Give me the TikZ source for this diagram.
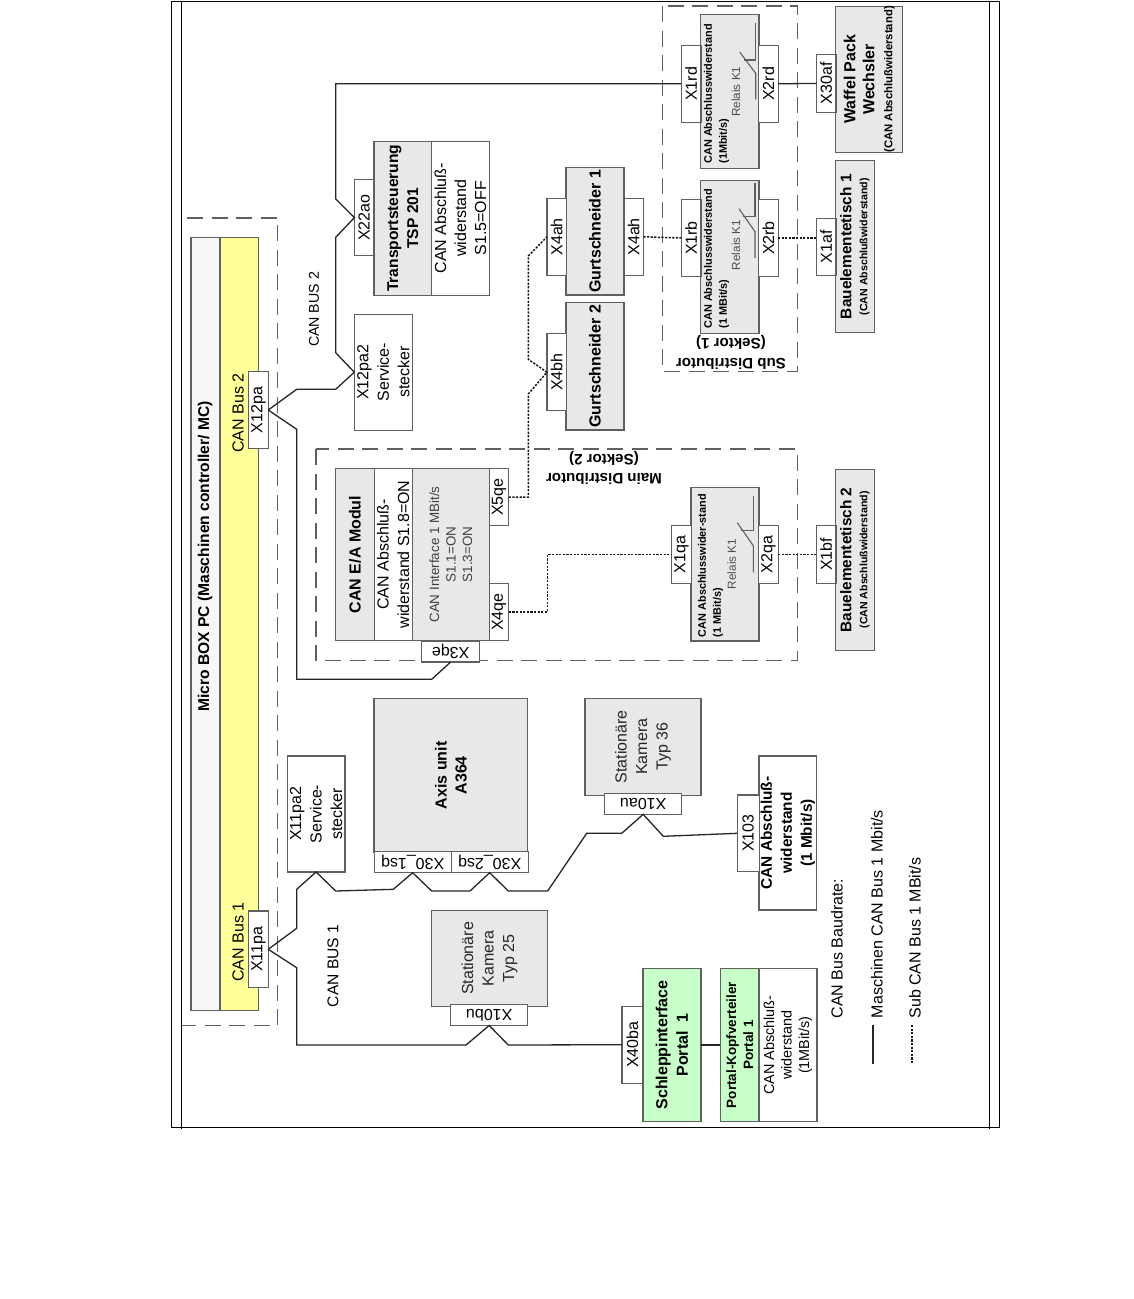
\documentclass[tikz,border=0pt]{standalone}
\usepackage{fontspec}
\setmainfont{Liberation Sans}
\usepackage{tikz}
\usetikzlibrary{positioning}
\definecolor{linegray}{HTML}{606060}
\definecolor{boxgray}{HTML}{E8E8E8}
\definecolor{palegray}{HTML}{F7F7F7}
\definecolor{busyellow}{HTML}{FFFF99}
\definecolor{portalgreen}{HTML}{C8FFC8}
\newcommand{\fs}[2]{\fontsize{#1}{#2}\selectfont}
\tikzset{
  sz/.style 2 args={minimum height=#1pt, minimum width=#2pt},
  plain/.style={inner sep=0pt, outer sep=0pt, align=center, font=\fs{16}{20.5}},
  box/.style={plain, draw=linegray, line width=1.1pt, rotate=90},
  graybox/.style={box, fill=boxgray},
  plug/.style={box, fill=white, sz={19.5}{76.6}},
  plugshort/.style={box, fill=white, sz={19.5}{57.5}},
  plugflip/.style={plain, draw=linegray, line width=1.1pt, fill=white, rotate=180, minimum width=77pt, minimum height=21pt},
  label/.style={plain, rotate=90},
  fliplabel/.style={plain, rotate=180, font=\bfseries\fs{15.1}{19.5}},
  smalllabel/.style={label, align=left, anchor=north west, font=\bfseries\fs{10.9}{15}},
  relaislabel/.style={label, text=linegray!80!black, font=\fs{11.7}{14}},
  framed/.style={draw=linegray, line width=1.1pt, dash pattern=on 16pt off 8.5pt},
  bus/.style={draw=black!85, line width=1.3pt},
  subbus/.style={draw=black!90, line width=1.5pt, dash pattern=on 2.2pt off 1.4pt}
}

\begin{document}
\begin{tikzpicture}[x=1pt, y=-1pt]

\useasboundingbox (0,0) rectangle (1134,1299);
\fill[white] (0,0) rectangle (1134,1299);

% Page frame
\draw[line width=1pt] (171,1) rectangle (999,1127);
\draw[line width=1pt] (181.7,1) -- (181.7,1129);
\draw[line width=1pt] (989.3,1) -- (989.3,1129);

% Dashed groups
\draw[framed] (187,218) -- (277.7,218) -- (277.7,1025.7) -- (181.7,1025.7);
\draw[framed] (316,449) rectangle (797.3,660.3);
\draw[framed] (662.3,6) rectangle (797.3,371.7);

% Micro BOX PC
\node[box, fill=palegray, sz={29}{772.7}] (microhead) at (205.5,623.7) {};
\node[box, fill=busyellow, sz={38.3}{772.7}] (microbus) at (239.2,623.7) {};
\node[label, font=\bfseries\fs{15.6}{20}] (microtext) at (205,556.5) {Micro BOX PC (Maschinen controller/ MC)};
\node[label] (bus2text) at (238,413) {CAN Bus 2};
\node[label] (bus1text) at (238,942) {CAN Bus 1};
\node[plug] (x12pa) at (258.5,410) {X12pa};
\node[plug] (x11pa) at (258.5,949.3) {X11pa};

% Service plugs
\node[box, fill=white, sz={58}{115.7}] (x12pa2) at (383.3,372.2) {X12pa2\\Service-\\stecker};
\node[box, fill=white, sz={57.7}{116}] (x11pa2) at (316.1,814) {X11pa2\\Service-\\stecker};

% Transportsteuerung
\node[graybox, sz={57.7}{154.3}, font=\bfseries\fs{15.6}{20}] (tsphead) at (402.8,218.2) {Transportsteuerung\\TSP 201};
\node[box, fill=white, sz={57.7}{154.3}, font=\fs{16}{20}] (tspterm) at (460.5,218.2) {CAN Abschluß-\\widerstand\\S1.5=OFF};
\node[plug] (x22ao) at (364.2,217.6) {X22ao};

% Gurtschneider
\node[graybox, sz={58}{127.3}, font=\bfseries\fs{16}{20}] (gurt1) at (595,231.3) {Gurtschneider 1};
\node[graybox, sz={58}{127.3}, font=\bfseries\fs{16}{20}] (gurt2) at (595,366.3) {Gurtschneider 2};
\node[plug] (x4ah) at (556.7,236.8) {X4ah};
\node[plug] (x4ahb) at (633.7,236.8) {X4ah};
\node[plug] (x4bh) at (556.7,372.2) {X4bh};

% Sub Distributor
\node[fliplabel] (subtitle) at (731,352.5) {Sub Distributor\\(Sektor 1)};
\node[graybox, sz={58.3}{154}] (relrd) at (729.8,91.3) {};
\node[graybox, sz={58.3}{153.3}] (relrb) at (729.8,256.7) {};
\node[plug] (x1rd) at (691.2,83.8) {X1rd};
\node[plug] (x2rd) at (768.3,83.8) {X2rd};
\node[plug] (x1rb) at (691.2,238) {X1rb};
\node[plug] (x2rb) at (768.3,238) {X2rb};
\node[smalllabel] (rdterm) at (704,163.5) {CAN Abschlusswiderstand\\(1Mbit/s)};
\node[smalllabel] (rbterm) at (704,328.5) {CAN Abschlusswiderstand\\(1 MBit/s)};
\node[relaislabel] (rdrel) at (736,91.7) {Relais K1};
\node[relaislabel] (rbrel) at (736,245) {Relais K1};

% Waffel Pack, Bauelementetisch
\node[graybox, sz={67}{143.3}, font=\bfseries\fs{16}{19}] (waffel) at (869.2,79.3) {Waffel Pack\\Wechsler\\[-1pt]{\fs{11.3}{13}(CAN Abschlußwiderstand)}};
\node[plugshort] (x30af) at (826.2,83.4) {X30af};
\node[graybox, sz={38.6}{172}, font=\bfseries\fs{15.4}{16}] (baue1) at (855,246.7) {Bauelementetisch 1\\{\fs{10.6}{13}(CAN Abschlußwiderstand)}};
\node[plugshort] (x1af) at (826.2,247) {X1af};
\node[graybox, sz={38.6}{180.3}, font=\bfseries\fs{15.4}{16}] (baue2) at (855,559.9) {Bauelementetisch 2\\{\fs{10.6}{13}(CAN Abschlußwiderstand)}};
\node[plugshort] (x1bf) at (826.2,554.5) {X1bf};

% Main Distributor
\node[fliplabel] (maintitle) at (604,468) {Main Distributor\\(Sektor 2)};
\node[graybox, sz={38.3}{172.4}, font=\bfseries\fs{16}{20}] (eahead) at (354.9,554.5) {CAN E/A Modul};
\node[box, fill=white, sz={38.3}{172.4}, font=\fs{16}{20.5}] (eaterm) at (393.2,554.5) {CAN Abschluß-\\widerstand S1.8=ON};
\node[graybox, sz={77}{172.4}, font=\fs{13.4}{16.5}, text=black!75] (eaif) at (450.8,554.5) {CAN Interface 1 MBit/s\\S1.1=ON\\S1.3=ON};
\node[plugshort] (x5qe) at (499,497) {X5qe};
\node[plugshort] (x4qe) at (499,612) {X4qe};
\node[plugflip, minimum width=58pt] (x3qe) at (450.7,651.5) {X3qe};
\node[graybox, sz={68}{153.3}] (relqa) at (725,564.3) {};
\node[plugshort] (x1qa) at (681.5,554.5) {X1qa};
\node[plugshort] (x2qa) at (768.5,554.5) {X2qa};
\node[smalllabel] (qaterm) at (698,637) {CAN Abschlusswider-stand\\(1 MBit/s)};
\node[relaislabel] (qarel) at (731.7,564) {Relais K1};

% Relais contacts: x, upper end, knee, diagonal end, lower end
\foreach \xk/\ya/\yb/\yc/\yd in {755.7/22.7/60/73.3/99.3, 755/182.7/216.7/231.7/258, 753.3/495.7/530.7/545.7/572.3} {
  \draw[linegray, line width=1.1pt] (\xk,\ya) -- (\xk,\yb) -- (\xk-12,\yb);
  \draw[linegray, line width=1.1pt] (\xk-16,\yb-8) -- (\xk,\yc) -- (\xk,\yd);
}

% Axis unit
\node[graybox, sz={153.7}{154}, font=\bfseries\fs{16}{20}] (axis) at (450.8,775.3) {Axis unit\\A364};
\node[plugflip] (x30a) at (412.7,862.2) {X30\_1sq};
\node[plugflip] (x30b) at (489.7,862.2) {X30\_2sq};

% Kameras
\node[graybox, sz={116}{96.7}, text=black!85] (kam36) at (643,746.7) {Stationäre\\Kamera\\Typ 36};
\node[plugflip] (x10au) at (643.2,803.8) {X10au};
\node[graybox, sz={115.6}{96.4}, text=black!85] (kam25) at (489.5,958.5) {Stationäre\\Kamera\\Typ 25};
\node[plugflip] (x10bu) at (489.2,1015) {X10bu};

% CAN Abschluss X103
\node[box, fill=white, sz={57.7}{154}, font=\bfseries\fs{15.4}{20}] (term103) at (787.8,833) {CAN Abschluß-\\widerstand\\(1 Mbit/s)};
\node[box, fill=white, sz={21.7}{76.7}] (x103) at (748.2,833.3) {X103};

% Portal 1
\node[box, fill=portalgreen, sz={58}{153.4}, font=\bfseries\fs{16}{20.5}] (schlepp) at (672,1045) {Schleppinterface\\Portal\ \ 1};
\node[plug, sz={21}{77.3}] (x40ba) at (632.5,1044.7) {X40ba};
\node[box, fill=portalgreen, sz={38.7}{153.4}, font=\bfseries\fs{13.5}{17}] (portalhead) at (739.7,1045) {Portal-Kopfverteiler\\Portal 1};
\node[box, fill=white, sz={58}{153.4}, font=\fs{14.4}{17.5}] (portalterm) at (788,1045) {CAN Abschluß-\\widerstand\\(1MBit/s)};

% Bus names
\node[label, font=\fs{14.2}{18}] (canbus2) at (314,309.5) {CAN BUS 2};
\node[label, font=\fs{15.6}{18}] (canbus1) at (333,966) {CAN BUS 1};

% CAN BUS 2
\draw[bus] (x12pa.south) -- (296.7,389.3) -- (335.7,389.3) -- (x12pa2.north) -- (335.7,352.7) -- (335.7,237.3) -- (x22ao.north) -- (335.7,199) -- (335.7,83.8) -- (x1rd.north);
\draw[bus] (x2rd.south) -- (x30af.north);
\draw[bus] (x12pa.south) -- (296.7,429.3) -- (296.7,679.3) -- (431.7,679.3) -- (x3qe.north);

% CAN BUS 1
\draw[bus] (x11pa.south) -- (296.7,928.3) -- (296.7,889.3) -- (x11pa2.west) -- (335.7,891) -- (393.3,889.3) -- (x30a.north) -- (431.7,891) -- (470,891) -- (x30b.north) -- (508.3,891) -- (547.7,891) -- (586.7,833.3) -- (621.7,833.3) -- (x10au.north) -- (663.3,836.3) -- (x103.north);
\draw[bus] (x11pa.south) -- (296.7,967.7) -- (296.7,1045) -- (466,1045) -- (x10bu.north) -- (508.3,1045) -- (x40ba.north);
\draw[bus] (schlepp.south) -- (portalhead.north);

% Sub CAN
\draw[subbus] (x5qe.south) -- (528.3,497) -- (528.3,394) -- (x4bh.north) -- (528.3,359.3) -- (528.3,256) -- (x4ah.north);
\draw[subbus] (x4ahb.south) -- (x1rb.north);
\draw[subbus] (x2rb.south) -- (x2rb.south -| x1af.north);
\draw[subbus] (x4qe.south) -- (547.3,612) -- (547.3,554.5) -- (x1qa.north);
\draw[subbus] (x2qa.south) -- (x1bf.north);

% Legend
\coordinate (legfrom) at (873,1025);
\coordinate (legto) at (873,1064);
\coordinate (subfrom) at (912,1025);
\coordinate (subto) at (912,1064);
\node[label] (legtitle) at (837,948.5) {CAN Bus Baudrate:};
\node[label] (legmain) at (877,914) {Maschinen CAN Bus 1 Mbit/s};
\node[label] (legsub) at (915,938) {Sub CAN Bus 1 MBit/s};
\draw[bus] (legfrom) -- (legto);
\draw[subbus] (subfrom) -- (subto);

\end{tikzpicture}
\end{document}
